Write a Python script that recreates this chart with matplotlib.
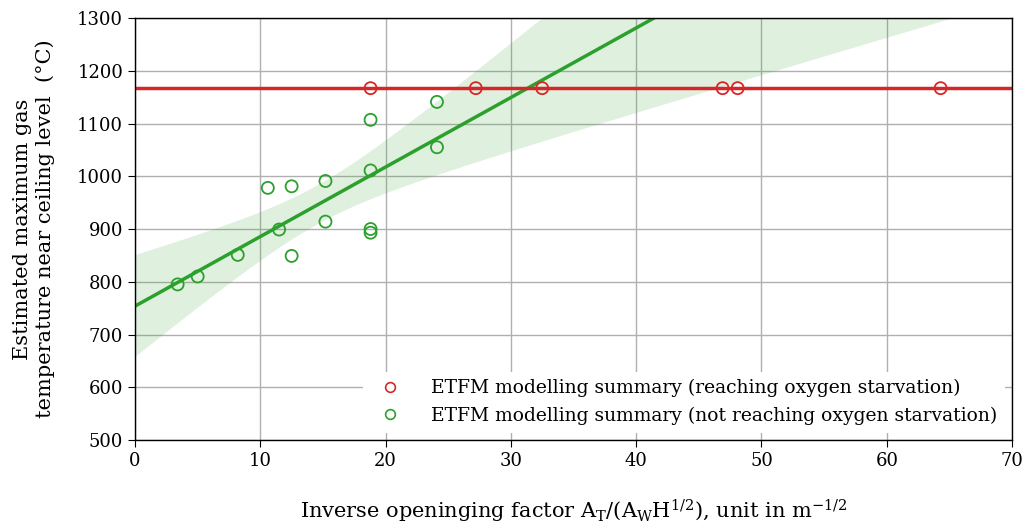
import numpy as np
import matplotlib
matplotlib.use("Agg")
from matplotlib import pyplot as plt
from matplotlib.lines import Line2D

plt.rcParams['font.family'] = ['DejaVu Serif']
plt.rcParams['mathtext.fontset'] = 'dejavuserif'

# runs that hit oxygen starvation
red_x = [18.8, 27.2, 32.5, 46.9, 48.1, 64.3]
red_y = [1167, 1167, 1167, 1167, 1167, 1167]

# runs that did not
green_x = [3.4, 5.0, 8.2, 10.6, 11.5, 12.5, 12.5, 15.2, 15.2, 18.8, 18.8, 18.8, 18.8, 24.1, 24.1]
green_y = [795, 810, 851, 978, 899, 981, 849, 991, 914, 1107, 1011, 900, 893, 1141, 1055]

red_c = '#d62728'
green_c = '#2ca02c'


def fit_with_ci(x, y, grid):
    x = np.asarray(x, float)
    y = np.asarray(y, float)
    b, a = np.polyfit(x, y, 1)
    fit = a + b * grid
    n = len(x)
    resid = y - (a + b * x)
    s = np.sqrt(np.sum(resid ** 2) / (n - 2))
    sxx = np.sum((x - x.mean()) ** 2)
    t = 2.16  # t(0.975, 13)
    half = t * s * np.sqrt(1.0 / n + (grid - x.mean()) ** 2 / sxx)
    return fit, fit - half, fit + half


xx = np.linspace(0, 70, 300)

fig, ax = plt.subplots(figsize=(10.26, 5.24), dpi=100)
fig.subplots_adjust(left=0.1316, right=0.9864, bottom=0.1603, top=0.9656)

ax.grid(True, color='#b0b0b0', lw=1.0, zorder=0)
ax.set_axisbelow(True)

g_fit, g_lo, g_hi = fit_with_ci(green_x, green_y, xx)
ax.fill_between(xx, g_lo, g_hi, color=green_c, alpha=0.15, lw=0, zorder=1)
ax.plot(xx, g_fit, color=green_c, lw=2.5, zorder=2)

ax.plot(xx, np.full_like(xx, np.mean(red_y)), color=red_c, lw=2.5, zorder=2)

ax.scatter(green_x, green_y, s=75, facecolors='none', edgecolors=green_c, lw=1.3, zorder=3)
ax.scatter(red_x, red_y, s=75, facecolors='none', edgecolors=red_c, lw=1.3, zorder=3)

ax.set_xlim(0, 70)
ax.set_ylim(500, 1300)
ax.set_xticks(np.arange(0, 71, 10))
ax.set_yticks(np.arange(500, 1301, 100))
ax.tick_params(labelsize=13, length=5, color='black')
for sp in ax.spines.values():
    sp.set_color('black')
    sp.set_linewidth(1.0)

ax.set_xlabel(r'Inverse openinging factor $\mathrm{A_T/(A_W H^{1/2})}$, unit in m$^{-1/2}$',
              fontsize=15, labelpad=20)
ax.set_ylabel('Estimated maximum gas\ntemperature near ceiling level  (°C)', fontsize=15, labelpad=16)

handles = [
    Line2D([], [], ls='none', marker='o', mfc='none', mec=red_c, ms=7, mew=1.2),
    Line2D([], [], ls='none', marker='o', mfc='none', mec=green_c, ms=7, mew=1.2),
]
labels = ['ETFM modelling summary (reaching oxygen starvation)',
          'ETFM modelling summary (not reaching oxygen starvation)']
leg = ax.legend(handles, labels, loc='lower right', fontsize=13.5, frameon=True,
                facecolor='white', edgecolor='none', framealpha=1.0,
                handletextpad=1.2, borderaxespad=0.4)
leg.get_frame().set_boxstyle('square', pad=0)

fig.savefig('out.png', dpi=100)
